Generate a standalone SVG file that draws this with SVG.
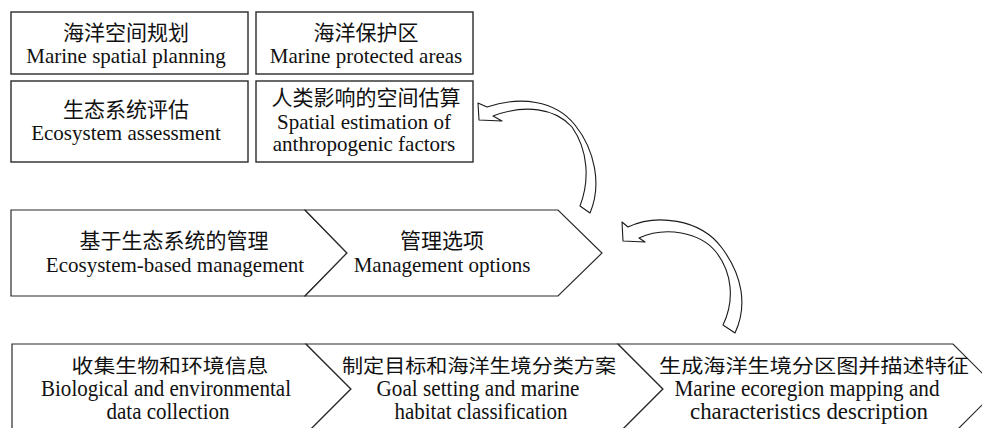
<svg xmlns="http://www.w3.org/2000/svg" width="982" height="428" viewBox="0 0 982 428">
<style>
.box{fill:#fff;stroke:#2a2a2a;stroke-width:1.4}
.chev{fill:#fff;stroke:#2a2a2a;stroke-width:1.2;stroke-linejoin:miter}
.arr{fill:#fff;stroke:#1a1a1a;stroke-width:1.1;stroke-linejoin:round}
text{font-family:"Liberation Serif","Noto Sans CJK SC",serif;fill:#111;text-anchor:middle}
.t{font-size:21px}
.zh{font-size:21px}
.bz{font-size:19px}
.be{font-size:23px}
</style>
<rect width="982" height="428" fill="#fff"/>
<g id="marine-spatial-planning">
<rect class="box" x="11" y="12" width="237" height="62"/>
<text class="zh" x="126" y="40">海洋空间规划</text>
<text class="t" x="126" y="63">Marine spatial planning</text>
</g>
<g id="marine-protected-areas">
<rect class="box" x="256" y="12" width="217" height="62"/>
<text class="zh" x="366" y="40">海洋保护区</text>
<text class="t" x="366" y="63">Marine protected areas</text>
</g>
<g id="ecosystem-assessment">
<rect class="box" x="11" y="81" width="237" height="81"/>
<text class="zh" x="126" y="117">生态系统评估</text>
<text class="t" x="126" y="140">Ecosystem assessment</text>
</g>
<g id="spatial-estimation">
<rect class="box" x="256" y="81" width="217" height="81"/>
<text class="zh" x="366" y="105">人类影响的空间估算</text>
<text class="t" x="364" y="129">Spatial estimation of</text>
<text class="t" x="364" y="151">anthropogenic factors</text>
</g>
<g id="ecosystem-based-management">
<path class="chev" d="M11,210 H305 L347,253 L305,296 H11 Z"/>
<text class="zh" x="174" y="248">基于生态系统的管理</text>
<text class="t" x="175" y="272">Ecosystem-based management</text>
</g>
<g id="management-options">
<path class="chev" d="M305,210 H558 L602,253 L558,296 H305 L347,253 Z"/>
<text class="zh" x="442" y="248">管理选项</text>
<text class="t" x="442" y="272">Management options</text>
</g>
<g id="data-collection">
<path class="chev" d="M12,344 H306 L351,389 L306,434 H12 Z"/>
<text class="bz" x="170" y="373" textLength="197" lengthAdjust="spacingAndGlyphs">收集生物和环境信息</text>
<text class="be" x="166" y="396" textLength="250" lengthAdjust="spacingAndGlyphs">Biological and environmental</text>
<text class="be" x="168" y="419" textLength="123" lengthAdjust="spacingAndGlyphs">data collection</text>
</g>
<g id="goal-setting">
<path class="chev" d="M306,344 H618 L663,389 L618,434 H306 L351,389 Z"/>
<text class="bz" x="479" y="373" textLength="274" lengthAdjust="spacingAndGlyphs">制定目标和海洋生境分类方案</text>
<text class="be" x="478" y="396" textLength="203" lengthAdjust="spacingAndGlyphs">Goal setting and marine</text>
<text class="be" x="481" y="419" textLength="173" lengthAdjust="spacingAndGlyphs">habitat classification</text>
</g>
<g id="ecoregion-mapping">
<path class="chev" d="M618,344 H953 L998,389 L953,434 H618 L663,389 Z"/>
<text class="bz" x="814" y="373" textLength="310" lengthAdjust="spacingAndGlyphs">生成海洋生境分区图并描述特征</text>
<text class="be" x="807" y="396" textLength="265" lengthAdjust="spacingAndGlyphs">Marine ecoregion mapping and</text>
<text class="be" x="809" y="419" textLength="238" lengthAdjust="spacingAndGlyphs">characteristics description</text>
</g>
<g id="connectors">
<path class="arr" d="M478,103 L487,107 C520,96 555,100 575,125 C595,150 602,185 590,213 L580,206 C590,180 588,150 572,127 C555,108 525,104 493,116 L502,121 L479,120 Z"/>
<path class="arr" d="M622,222 L628,227 C655,214 700,218 722,248 C742,275 748,305 735,333 L723,325 C735,300 732,272 716,252 C700,232 665,226 639,238 L645,242 L623,241 Z"/>
</g>
</svg>
